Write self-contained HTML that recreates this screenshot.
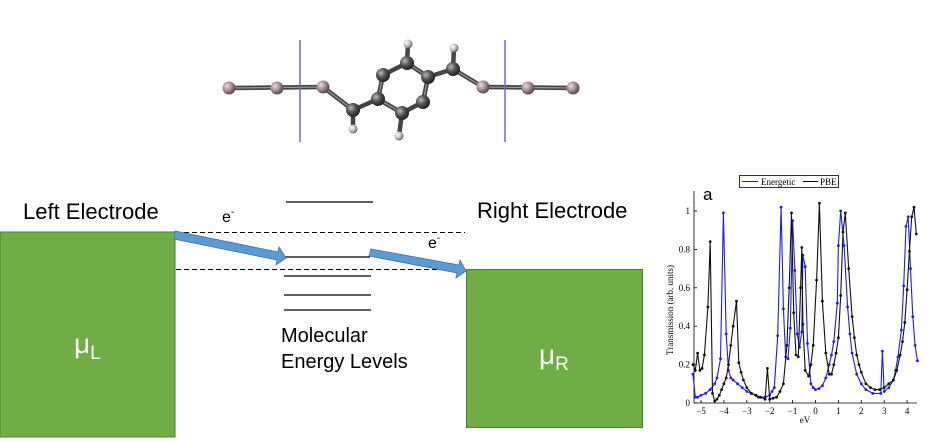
<!DOCTYPE html>
<html><head><meta charset="utf-8"><style>
body{margin:0;width:937px;height:442px;background:#fff;overflow:hidden;font-family:"Liberation Sans",sans-serif}
svg{position:absolute;left:0;top:0}
</style></head><body>
<svg width="937" height="442" viewBox="0 0 937 442" xmlns="http://www.w3.org/2000/svg">
<defs>
<radialGradient id="gc" cx="35%" cy="35%" r="65%"><stop offset="0" stop-color="#bbb"/><stop offset="0.5" stop-color="#555"/><stop offset="1" stop-color="#222"/></radialGradient>
<radialGradient id="gp" cx="35%" cy="35%" r="65%"><stop offset="0" stop-color="#e8dcdc"/><stop offset="0.5" stop-color="#a89494"/><stop offset="1" stop-color="#5a4a4a"/></radialGradient>
<radialGradient id="gh" cx="35%" cy="35%" r="65%"><stop offset="0" stop-color="#fff"/><stop offset="0.6" stop-color="#bbb"/><stop offset="1" stop-color="#666"/></radialGradient>
</defs>
<g id="bonds" fill="none">
<g stroke="#444" stroke-width="4.5">
<line x1="229" y1="88" x2="323" y2="87"/><line x1="483" y1="87" x2="573" y2="88"/>
<line x1="323" y1="87" x2="353" y2="110"/><line x1="353" y1="110" x2="378" y2="99"/>
<line x1="378" y1="99" x2="383" y2="75"/><line x1="383" y1="75" x2="407" y2="63"/>
<line x1="407" y1="63" x2="428" y2="77"/><line x1="428" y1="77" x2="423" y2="102"/>
<line x1="423" y1="102" x2="402" y2="113"/><line x1="402" y1="113" x2="378" y2="99"/>
<line x1="428" y1="77" x2="453" y2="69"/><line x1="453" y1="69" x2="483" y2="87"/>
<line x1="353" y1="110" x2="353" y2="129"/><line x1="402" y1="113" x2="399" y2="136"/>
<line x1="407" y1="63" x2="408" y2="44"/><line x1="453" y1="69" x2="454" y2="48"/>
</g>
<g stroke="#999" stroke-width="1.2">
<line x1="229" y1="88" x2="323" y2="87"/><line x1="483" y1="87" x2="573" y2="88"/>
<line x1="323" y1="87" x2="353" y2="110"/><line x1="453" y1="69" x2="483" y2="87"/>
<line x1="378" y1="99" x2="383" y2="75"/><line x1="428" y1="77" x2="423" y2="102"/>
<line x1="407" y1="63" x2="428" y2="77"/><line x1="402" y1="113" x2="378" y2="99"/>
</g>
</g>
<line x1="300" y1="40" x2="300" y2="142" stroke="#6a6ad8" stroke-width="1.5"/>
<line x1="505" y1="40" x2="505" y2="142" stroke="#6a6ad8" stroke-width="1.5"/>
<g fill="url(#gp)">
<circle cx="229" cy="88" r="6.5"/><circle cx="277" cy="88" r="6.5"/><circle cx="323" cy="87" r="6.5"/>
<circle cx="483" cy="87" r="6.5"/><circle cx="528" cy="88" r="6.5"/><circle cx="573" cy="88" r="6.5"/>
</g>
<g fill="url(#gc)">
<circle cx="353" cy="110" r="7"/><circle cx="378" cy="99" r="7"/><circle cx="383" cy="75" r="7"/>
<circle cx="407" cy="63" r="7"/><circle cx="428" cy="77" r="7"/><circle cx="423" cy="102" r="7"/>
<circle cx="402" cy="113" r="7"/><circle cx="453" cy="69" r="7"/>
</g>
<g fill="url(#gh)">
<circle cx="353" cy="129" r="4.5"/><circle cx="399" cy="136" r="4.5"/><circle cx="408" cy="44" r="4.5"/><circle cx="454" cy="48" r="4.5"/>
</g>

<rect x="0" y="232" width="175" height="205" fill="#70ad47" stroke="#507e32" stroke-width="1"/>
<rect x="466.5" y="269.5" width="176" height="158" fill="#70ad47" stroke="#507e32" stroke-width="1"/>
<text x="23" y="219" font-size="22" fill="#000">Left Electrode</text>
<text x="477" y="218" font-size="22" fill="#000">Right Electrode</text>
<text x="74" y="353" font-size="28" fill="#fff">μ<tspan font-size="19" dy="6">L</tspan></text>
<text x="539" y="364" font-size="28" fill="#fff">μ<tspan font-size="19" dy="6">R</tspan></text>
<text x="222" y="222" font-size="16">e<tspan font-size="10" dy="-7">-</tspan></text>
<text x="428" y="248" font-size="16">e<tspan font-size="10" dy="-7">-</tspan></text>
<text x="281" y="342" font-size="20">Molecular</text>
<text x="281" y="368" font-size="20">Energy Levels</text>
<g stroke="#000" stroke-width="1" stroke-dasharray="5,3">
<line x1="176" y1="232.5" x2="465" y2="232.5"/><line x1="176" y1="269.5" x2="465" y2="269.5"/>
</g>
<g stroke="#000" stroke-width="1.3">
<line x1="286" y1="202" x2="373" y2="202"/><line x1="284" y1="257" x2="370" y2="257"/>
<line x1="284" y1="276" x2="371" y2="276"/><line x1="284" y1="295" x2="371" y2="295"/>
<line x1="284" y1="310" x2="371" y2="310"/>
</g>
<g fill="#5b9bd5" stroke="#41719c" stroke-width="0.8">
<polygon points="175,231 278,252 279,247 286,258 276,265 277,260 174,239"/>
<polygon points="371,249 459,265 460,260 466,271 456,278 457,273 369,256"/>
</g>

<g id="plot"></g>
<rect x="739.5" y="175.5" width="99" height="12" fill="#fff" stroke="#000" stroke-width="0.8"/>
<line x1="742" y1="181.5" x2="758" y2="181.5" stroke="#1a1aff" stroke-width="1"/>
<text x="761" y="185" font-family="Liberation Serif" font-size="9">Energetic</text>
<line x1="803" y1="181.5" x2="818" y2="181.5" stroke="#000" stroke-width="1"/>
<text x="820" y="185" font-family="Liberation Serif" font-size="9">PBE</text>
<text x="703" y="200" font-size="17">a</text>
<text x="673" y="310" font-family="Liberation Serif" font-size="9" transform="rotate(-90 673 310)" text-anchor="middle">Transmission (arb. units)</text>
<text x="805" y="423" font-family="Liberation Serif" font-size="9" text-anchor="middle">eV</text>
</svg>
<script>
var g=document.getElementById('plot'),h='';
function X(e){return 815.5+22.9*e}function Y(t){return 403-192*t}
h+='<line x1="694" y1="403" x2="917" y2="403" stroke="#000" stroke-width="0.8"/><line x1="694" y1="191" x2="694" y2="403" stroke="#000" stroke-width="0.8"/>';
for(var i=0;i<=5;i++){var t=i*0.2,y=Y(t);h+='<line x1="694" y1="'+y+'" x2="697" y2="'+y+'" stroke="#000" stroke-width="0.8"/><text x="690" y="'+(y+3)+'" font-family="Liberation Serif" font-size="9" text-anchor="end">'+(i==0?'0':i==5?'1':t.toFixed(1))+'</text>';}
for(var e=-5;e<=4;e++){var x=X(e);h+='<line x1="'+x+'" y1="403" x2="'+x+'" y2="400" stroke="#000" stroke-width="0.8"/><text x="'+x+'" y="414" font-family="Liberation Serif" font-size="9" text-anchor="middle">'+(e<0?'−'+(-e):e)+'</text>';}
var B=[[-5.35,.2],[-5.25,.17],[-5.15,.26],[-5.05,.17],[-4.95,.18],[-4.85,.25],[-4.7,.5],[-4.6,.84],[-4.5,.05],[-4.4,.01],[-4.3,.02],[-4.2,.04],[-4.1,.07],[-4,.1],[-3.9,.13],[-3.8,.2],[-3.7,.3],[-3.6,.4],[-3.45,.53],[-3.35,.21],[-3.25,.16],[-3.15,.12],[-3,.08],[-2.8,.05],[-2.6,.04],[-2.4,.03],[-2.2,.02],[-2.1,.18],[-2,.02],[-1.85,.025],[-1.7,.03],[-1.55,.06],[-1.4,.1],[-1.25,.3],[-1.15,.6],[-1.05,.99],[-.95,.47],[-.85,.25],[-.75,.24],[-.65,.6],[-.6,.81],[-.55,.41],[-.45,.17],[-.3,.14],[-.2,.2],[-.1,.3],[.05,.64],[.17,1.04],[.3,.53],[.45,.26],[.6,.15],[.7,.15],[.8,.2],[.9,.26],[1,.34],[1.1,.56],[1.2,.89],[1.3,.99],[1.45,.7],[1.6,.45],[1.7,.34],[1.8,.25],[1.9,.2],[2,.16],[2.2,.1],[2.4,.08],[2.6,.07],[2.8,.07],[3,.08],[3.2,.1],[3.4,.12],[3.55,.17],[3.7,.25],[3.8,.32],[3.9,.42],[4,.59],[4.1,.79],[4.2,.97],[4.3,1.02],[4.4,.88]];
var L=[[-5.35,.15],[-5.25,.03],[-5.15,.03],[-5,.04],[-4.8,.05],[-4.6,.07],[-4.4,.1],[-4.3,.13],[-4.15,.23],[-4.02,.99],[-3.9,.36],[-3.8,.17],[-3.7,.13],[-3.6,.12],[-3.4,.1],[-3.2,.08],[-3,.06],[-2.8,.05],[-2.5,.03],[-2.2,.03],[-2,.04],[-1.9,.06],[-1.8,.08],[-1.65,.35],[-1.5,1.02],[-1.4,.49],[-1.3,.24],[-1.2,.23],[-1.1,.39],[-1,.95],[-.9,.69],[-.8,.36],[-.7,.29],[-.6,.37],[-.55,.77],[-.45,.71],[-.35,.31],[-.2,.1],[-.1,.08],[0,.07],[.15,.075],[.3,.09],[.45,.13],[.6,.2],[.7,.25],[.8,.32],[.95,.52],[1,.82],[1.1,1],[1.25,.82],[1.4,.5],[1.5,.36],[1.6,.26],[1.8,.15],[2,.1],[2.2,.07],[2.5,.05],[2.85,.05],[2.92,.27],[3,.06],[3.2,.08],[3.4,.12],[3.5,.17],[3.6,.24],[3.75,.38],[3.85,.61],[3.95,.92],[4.05,.97],[4.15,.7],[4.25,.45],[4.35,.3],[4.45,.22]];
function draw(d,c){var p=d.map(function(a){return X(a[0]).toFixed(1)+','+Y(a[1]).toFixed(1)}).join(' ');h+='<polyline points="'+p+'" fill="none" stroke="'+c+'" stroke-width="1.1"/>';d.forEach(function(a){h+='<circle cx="'+X(a[0]).toFixed(1)+'" cy="'+Y(a[1]).toFixed(1)+'" r="1.4" fill="'+c+'"/>'});}
draw(L,'#1a1aff');draw(B,'#111');
g.innerHTML=h;
</script>
</body></html>
